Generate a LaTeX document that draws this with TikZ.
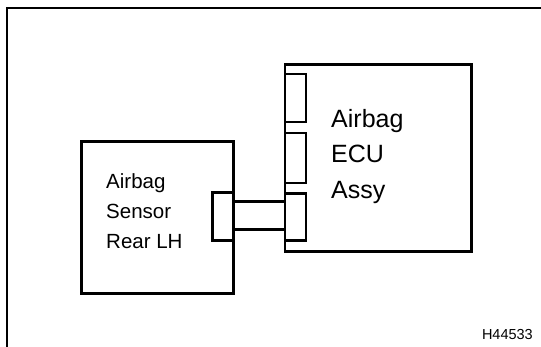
\documentclass[tikz,border=0pt]{standalone}
\usepackage{fontspec}
\setmainfont{Liberation Sans}
\begin{document}
\begin{tikzpicture}[x=1pt,y=-1pt,
  box/.style={draw=black,line width=2.8pt,rectangle,inner sep=0pt,anchor=north west},
  wire/.style={draw=black,line width=2.8pt},
  frame/.style={draw=black,line width=2pt},
  small/.style={font=\fontsize{20.5}{24}\selectfont,inner sep=0pt,anchor=base west},
  big/.style={font=\fontsize{25}{30}\selectfont,inner sep=0pt,anchor=base west},
  code/.style={font=\fontsize{14.5}{17}\selectfont,inner sep=0pt,anchor=base east}]
\useasboundingbox[fill=white] (0,0) rectangle (541,347);
% outer frame
\coordinate (fbl) at (6.7,350);
\coordinate (ftl) at (6.7,8.3);
\coordinate (ftr) at (545,8.3);
\draw[frame] (fbl) -- (ftl) -- (ftr);
% boxes
\node[box,minimum width=151.6pt,minimum height=152.3pt] (sensor) at (80.4,140) {};
\node[box,minimum width=186.4pt,minimum height=186.7pt] (ecu) at (283.6,63.3) {};
\node[box,minimum width=21pt,minimum height=48pt] (c1) at (283.6,72.7) {};
\node[box,minimum width=21pt,minimum height=50pt] (c2) at (283.6,131.7) {};
\node[box,minimum width=21pt,minimum height=47pt] (c3) at (283.6,192.3) {};
\node[box,minimum width=21pt,minimum height=48.3pt] (sc) at (211,191) {};
% wires
\coordinate (w1) at (0,201.7);
\coordinate (w2) at (0,229.3);
\draw[wire] (sc.east |- w1) -- (c3.west |- w1);
\draw[wire] (sc.east |- w2) -- (c3.west |- w2);
% texts
\node[small] (s1) at (106,189) {Airbag};
\node[small] (s2) at (106,219) {Sensor};
\node[small] (s3) at (106,249) {Rear LH};
\node[big] (e1) at (331,127.5) {Airbag};
\node[big] (e2) at (331,162.8) {ECU};
\node[big] (e3) at (331,198.3) {Assy};
\node[code] (id) at (533,339.3) {H44533};
\end{tikzpicture}
\end{document}
